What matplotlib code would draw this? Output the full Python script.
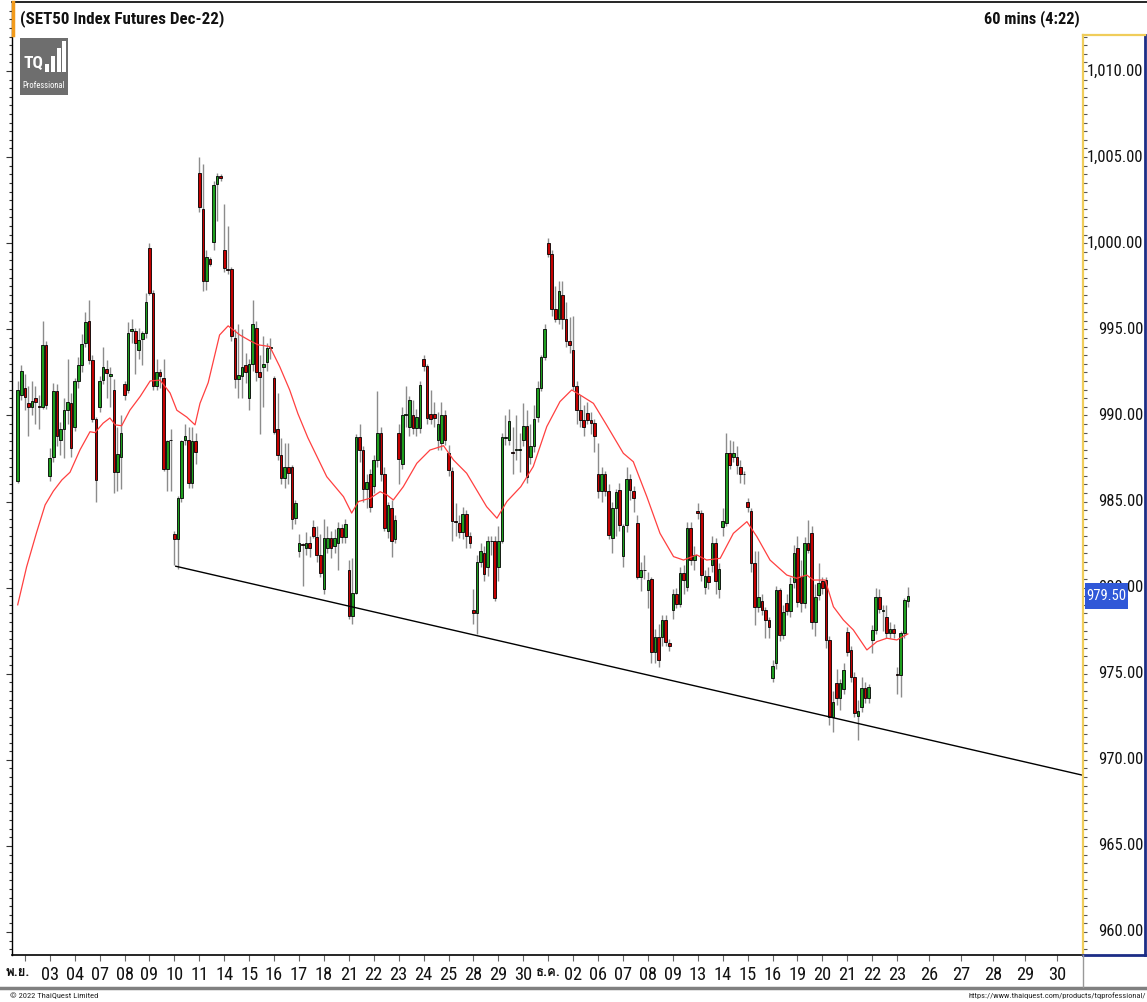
import numpy as np
import matplotlib
matplotlib.use('Agg')
import matplotlib.pyplot as plt
from matplotlib import font_manager
from matplotlib.ft2font import FT2Font
from matplotlib.lines import Line2D
from matplotlib.patches import Rectangle
from matplotlib.ticker import MultipleLocator, NullFormatter
from matplotlib.transforms import blended_transform_factory, ScaledTranslation

# ---------------- data (hourly bars, 7 per trading day) ----------------
opens = [
    986.2, 991.2,
    991.6, 990.7, 990.5, 991.0, 990.55, 990.5, 994.1,
    986.5, 987.6, 991.4, 988.6, 989.2, 990.3, 990.7,
    989.3, 992.0, 992.9, 994.2, 995.5, 993.2, 989.8,
    990.5, 992.05, 992.7, 992.3, 991.5, 986.7, 987.6,
    991.8, 991.5, 994.9, 994.9, 993.8, 994.45, 994.8,
    999.7, 997.1, 991.7, 992.5, 992.15, 986.9, 988.55,
    983.1, 982.8, 985.2, 988.6, 988.6, 986.05, 988.5,
    1004.05, 1002.0, 997.8, 999.1, 1000.05, 1003.45, 1003.9,
    999.6, 998.5, 998.5, 994.5, 992.1, 992.3, 992.9,
    991.0, 993.0, 995.1, 992.5, 992.8, 993.1, 993.9,
    992.15, 989.2, 987.7, 986.35, 987.0, 987.0, 984.05,
    982.1, 982.55, 982.3, 982.6, 983.5, 982.95, 981.9,
    979.9, 982.3, 982.9, 982.4, 982.6, 983.45, 982.95,
    981.0, 978.35, 979.7, 988.75, 988.0, 985.7, 986.6,
    985.9, 987.4, 989.0, 986.6, 983.3, 984.65, 982.8,
    989.0, 987.2, 990.0, 989.35, 990.0, 989.25, 989.25,
    993.3, 992.85, 990.1, 990.1, 988.6, 988.4, 990.0,
    987.8, 986.75, 983.85, 983.75, 983.25, 984.3, 983.0,
    978.7, 978.5, 981.5, 982.0, 981.2, 982.7, 982.7,
    981.2, 982.7, 988.7, 988.6, 987.85, 988.0, 988.0,
    988.6, 989.4, 987.6, 988.2, 989.9, 991.6, 993.4,
    1000.0, 999.4, 996.2, 995.6, 997.0, 995.6, 994.3,
    993.8, 991.7, 990.3, 989.75, 990.15, 989.75, 989.55,
    986.6, 985.6, 986.6, 985.6, 982.86, 984.6, 985.67,
    981.84, 983.64, 986.29, 985.63, 983.77, 980.64, 981.0,
    979.86, 980.48, 976.28, 977.15, 977.15, 978.12, 976.8,
    978.7, 979.61, 979.05, 980.87, 980.06, 983.44, 981.6,
    984.47, 984.32, 980.06, 980.7, 981.3, 982.57, 979.9,
    983.54, 983.77, 987.83, 987.6, 987.6, 986.98, 986.6,
    984.99, 984.46, 981.41, 978.89, 979.2, 978.7, 978.12,
    974.73, 975.6, 979.86, 977.25, 979.12, 978.66, 980.31,
    982.28, 980.63, 979.08, 982.6, 983.15, 978.02, 979.57,
    980.4, 980.44, 976.95, 972.5, 974.48, 973.57, 974.09,
    977.44, 976.37, 974.83, 972.54, 973.08, 974.15, 973.57,
    976.95, 977.53, 979.47, 978.66, 978.31, 977.34, 977.57,
    974.98, 974.92, 977.34, 979.2,
]
highs = [
    992.0, 992.9,
    992.4, 991.7, 992.0, 991.7, 991.2, 995.5, 994.3,
    988.1, 991.9, 991.8, 989.6, 991.0, 993.3, 991.3,
    992.2, 993.4, 994.7, 996.0, 996.7, 993.5, 989.9,
    992.3, 994.0, 993.2, 992.8, 992.1, 989.3, 990.0,
    992.0, 995.4, 995.6, 995.1, 995.1, 994.9, 997.1,
    1000.0, 997.3, 993.3, 992.7, 993.3, 988.6, 989.2,
    983.3, 985.3, 988.6, 989.5, 989.3, 989.3, 989.0,
    1005.0, 1004.6, 999.6, 999.2, 1003.6, 1004.1, 1004.0,
    1002.3, 1001.0, 998.6, 995.0, 995.3, 995.0, 993.6,
    993.3, 996.7, 995.5, 993.5, 994.6, 994.2, 994.5,
    992.3, 991.3, 988.7, 988.4, 988.4, 987.1, 985.1,
    983.1, 982.6, 983.2, 983.0, 983.9, 983.6, 983.1,
    984.0, 983.6, 983.3, 983.4, 983.8, 983.7, 984.0,
    981.6, 981.7, 988.9, 989.5, 988.2, 986.6, 986.9,
    987.7, 991.4, 989.3, 987.0, 985.0, 985.1, 984.2,
    989.5, 990.5, 991.7, 991.1, 990.9, 990.4, 992.0,
    993.5, 993.0, 991.5, 990.8, 990.2, 990.8, 990.3,
    988.3, 987.0, 984.9, 984.2, 984.7, 984.5, 983.2,
    979.9, 981.9, 982.6, 982.4, 983.0, 983.0, 983.0,
    983.6, 989.0, 990.0, 990.4, 989.3, 990.0, 989.0,
    990.7, 990.3, 989.5, 990.6, 992.0, 993.5, 995.3,
    1000.3, 999.6, 997.5, 997.8, 997.8, 996.6, 995.7,
    995.8, 992.0, 991.2, 990.6, 990.8, 990.2, 989.8,
    988.4, 987.0, 986.8, 986.0, 985.0, 985.7, 986.1,
    983.7, 987.0, 986.6, 985.9, 984.2, 981.5, 981.9,
    980.9, 980.6, 977.6, 977.9, 978.4, 978.4, 977.0,
    979.9, 980.0, 981.2, 981.3, 983.8, 983.8, 982.4,
    984.9, 984.5, 981.0, 981.2, 983.0, 982.9, 981.4,
    984.6, 989.0, 988.6, 988.5, 988.2, 987.4, 986.8,
    985.2, 984.6, 982.1, 982.1, 979.6, 978.9, 978.3,
    975.8, 980.1, 980.0, 979.0, 979.6, 980.6, 982.5,
    983.0, 981.6, 982.95, 983.9, 983.6, 980.2, 981.4,
    980.6, 980.6, 977.2, 974.0, 975.3, 974.7, 975.6,
    977.7, 976.6, 975.1, 973.5, 974.8, 974.5, 974.4,
    977.8, 979.96, 979.9, 979.0, 979.0, 978.0, 977.9,
    975.4, 977.5, 979.4, 980.05,
]
lows = [
    986.1, 990.9,
    990.3, 988.8, 990.0, 989.5, 989.2, 990.4, 990.4,
    986.2, 987.3, 988.2, 987.7, 987.5, 989.5, 987.6,
    989.1, 991.6, 992.5, 994.0, 993.0, 989.6, 985.0,
    990.2, 991.8, 991.0, 990.5, 985.5, 985.6, 985.7,
    990.9, 991.3, 994.2, 992.4, 993.3, 992.9, 994.5,
    997.0, 991.5, 991.5, 991.6, 986.8, 985.6, 985.6,
    981.3, 981.1, 985.0, 988.3, 985.8, 985.8, 987.2,
    1001.8, 997.2, 997.3, 998.7, 999.6, 1001.3, 1003.6,
    998.3, 998.2, 994.3, 991.6, 991.0, 991.0, 991.9,
    990.3, 992.6, 992.0, 988.9, 990.5, 992.6, 993.3,
    988.9, 987.4, 986.0, 985.8, 986.0, 983.4, 983.7,
    981.8, 980.1, 981.9, 981.8, 982.9, 981.5, 980.6,
    979.6, 982.0, 981.7, 982.0, 981.0, 982.6, 982.6,
    978.2, 977.9, 979.6, 987.3, 985.0, 984.6, 984.4,
    985.5, 987.0, 986.2, 983.3, 982.9, 981.8, 982.6,
    986.0, 986.9, 989.3, 988.8, 988.9, 988.8, 989.0,
    992.6, 989.5, 989.5, 989.3, 988.0, 988.0, 988.3,
    986.5, 982.7, 983.0, 982.9, 982.8, 982.3, 982.3,
    977.9, 977.3, 981.2, 980.4, 980.7, 981.9, 979.2,
    980.4, 982.6, 988.3, 988.3, 986.6, 987.4, 986.7,
    988.2, 986.1, 987.2, 987.9, 989.6, 991.4, 993.2,
    999.2, 995.8, 995.4, 995.3, 995.0, 994.0, 993.6,
    991.5, 989.5, 989.3, 988.8, 989.5, 988.9, 987.9,
    985.2, 985.0, 985.3, 982.8, 982.0, 983.0, 983.3,
    981.2, 983.2, 985.1, 984.4, 980.5, 979.8, 980.5,
    978.8, 975.6, 975.6, 975.4, 976.6, 976.6, 976.3,
    978.2, 978.8, 978.9, 979.6, 979.8, 981.3, 981.0,
    984.0, 980.4, 979.6, 979.9, 980.9, 979.6, 979.4,
    983.0, 983.6, 986.9, 987.3, 986.6, 986.05, 986.0,
    984.4, 980.9, 977.8, 978.6, 978.4, 977.05, 977.05,
    974.5, 975.3, 976.9, 977.0, 978.4, 978.3, 980.0,
    978.9, 978.6, 978.8, 982.0, 977.6, 977.2, 979.3,
    979.6, 976.5, 972.0, 971.6, 973.2, 972.9, 973.8,
    976.0, 974.5, 972.5, 971.15, 972.8, 973.3, 973.3,
    976.2, 977.3, 978.5, 977.5, 977.05, 977.1, 977.1,
    973.8, 973.66, 977.1, 978.9,
]
closes = [
    991.5, 992.6,
    991.05, 990.5, 990.85, 990.8, 990.5, 994.1, 990.6,
    987.5, 991.4, 988.8, 989.2, 990.3, 990.8, 988.1,
    992.0, 992.9, 994.15, 995.4, 993.2, 989.8, 986.25,
    992.0, 992.8, 992.45, 992.4, 986.7, 987.75, 989.0,
    991.2, 994.8, 995.0, 994.2, 994.4, 994.8, 996.6,
    997.1, 991.7, 992.5, 992.3, 986.9, 988.5, 988.6,
    982.8, 985.2, 988.5, 988.8, 986.05, 988.5, 987.9,
    1002.1, 997.8, 999.2, 998.8, 1003.4, 1003.9, 1003.8,
    998.55, 998.45, 994.6, 992.1, 992.35, 992.8, 992.5,
    993.0, 995.3, 992.5, 992.25, 993.0, 993.9, 994.0,
    989.05, 987.7, 986.35, 987.0, 986.65, 984.0, 984.9,
    982.6, 982.45, 982.6, 982.3, 983.0, 981.9, 980.85,
    982.9, 982.9, 982.3, 982.9, 983.45, 982.95, 983.7,
    978.35, 979.7, 988.75, 988.0, 985.7, 986.15, 984.7,
    987.4, 989.0, 986.6, 983.45, 984.8, 982.7, 983.9,
    987.45, 990.0, 990.1, 990.9, 989.25, 989.9, 991.75,
    992.85, 989.85, 989.8, 989.85, 989.5, 990.0, 988.6,
    986.85, 983.85, 983.8, 983.25, 984.3, 983.0, 982.6,
    978.5, 981.5, 982.1, 980.8, 982.7, 982.7, 979.4,
    982.7, 988.75, 988.75, 989.7, 987.8, 988.05, 988.0,
    989.4, 986.45, 988.2, 989.8, 991.6, 993.4, 995.0,
    999.4, 996.2, 995.6, 997.2, 995.6, 994.3, 994.1,
    991.7, 990.3, 989.75, 989.35, 989.75, 989.55, 988.8,
    985.6, 986.6, 985.6, 983.06, 984.6, 985.57, 983.64,
    983.58, 986.29, 985.67, 985.22, 980.64, 981.03, 981.0,
    980.44, 976.28, 977.15, 975.8, 978.12, 976.86, 976.6,
    979.6, 979.05, 980.87, 980.44, 983.44, 981.6, 981.9,
    984.32, 980.73, 980.7, 980.3, 982.57, 980.4, 981.1,
    983.89, 987.83, 987.12, 987.83, 987.12, 986.6, 986.6,
    984.66, 981.41, 978.89, 979.47, 978.7, 978.12, 977.73,
    975.45, 979.86, 977.25, 978.6, 978.66, 980.21, 981.99,
    979.18, 979.08, 982.57, 982.18, 978.02, 979.47, 980.29,
    979.96, 976.95, 972.5, 973.37, 973.57, 974.44, 975.21,
    976.28, 974.83, 972.7, 972.85, 974.15, 973.57, 974.25,
    977.53, 979.47, 978.74, 978.66, 977.34, 977.57, 977.34,
    974.9, 977.34, 979.28, 979.5,
]

# red moving-average line, read at sample positions (bar index, value)
ma_idx = [0, 2.5, 5.3, 7.7, 10.0, 12.4, 14.7, 17.5, 20.3, 21.7, 24.0, 25.9, 27.4, 29.2,
          31.5, 34.4, 37.2, 40.0, 42.8, 44.7, 47.5, 49.8, 51.2, 53.5, 56.7, 59.1, 62.4,
          65.2, 67.5, 70.8, 73.6, 76.4, 78.7, 81.5, 86.8, 91.5, 93.8, 95.7, 99.0, 101.8,
          103.7, 105.5, 108.3, 112.1, 115.8, 119.6, 122.4, 126.1, 128.9, 131.7, 134.6,
          137.4, 141.3, 144.8, 148.6, 152.3, 155.6, 158.0, 161.7, 165.4, 170.1, 172.9,
          176.7, 180.4, 184.2, 187.0, 190.7, 193.5, 197.3, 201.0, 204.8, 207.6, 211.3,
          216.0, 218.8, 221.6, 223.5, 226.8, 229.1, 231.9, 234.7, 238.5, 241.3, 244.1,
          246.9, 250.0]
ma_val = [979.0, 981.2, 983.2, 984.8, 985.6, 986.25, 986.7, 988.0, 989.05, 989.0, 989.55,
          989.85, 989.45, 989.4, 990.3, 991.1, 992.0, 992.05, 991.3, 990.3, 989.9, 989.45,
          990.7, 991.9, 994.67, 995.2, 994.67, 994.34, 994.1, 994.0, 992.83, 991.47, 990.1,
          988.7, 986.44, 985.28, 984.33, 985.0, 985.19, 985.57, 985.38, 985.09, 985.86,
          987.22, 987.99, 988.24, 987.41, 986.64, 985.67, 984.7, 984.03, 985.0, 985.86,
          987.03, 989.35, 990.8, 991.48, 991.18, 990.7, 989.44, 987.8, 987.31, 985.28,
          983.15, 981.8, 981.6, 981.9, 981.6, 981.7, 983.15, 983.83, 982.96, 981.6, 980.73,
          980.54, 980.73, 980.44, 980.44, 978.89, 978.12, 977.54, 976.38, 976.86, 977.06,
          976.96, 977.31]

# drawn trend line (anchor bar index, value)
trend_idx = [44.2, 299.2]
trend_val = [981.25, 969.1]

# x-axis day labels
day_labels = ['พ.ย.', '03', '04', '07', '08', '09', '10', '11', '14', '15', '16', '17', '18',
              '21', '22', '23', '24', '25', '28', '29', '30', 'ธ.ค.', '02', '06', '07', '08',
              '09', '13', '14', '15', '16', '19', '20', '21', '22', '23',
              '26', '27', '28', '29', '30']
month_labels = {'พ.ย.', 'ธ.ค.'}
price_ticks = [960, 965, 970, 975, 980, 985, 990, 995, 1000, 1005, 1010]
last_price = 979.50
title_left = '(SET50 Index Futures Dec-22)'
title_right = '60 mins (4:22)'

# ---------------- fonts ----------------
ents = font_manager.fontManager.ttflist
names = {f.name for f in ents}
COND_STRETCH = ('condensed', 'semi-condensed', 'extra-condensed', 'ultra-condensed')


def pick_condensed():
    conds = [f for f in ents if (str(f.stretch) in COND_STRETCH or 'Narrow' in f.name
                                 or 'Condensed' in f.name)]
    pref = ['Liberation Sans Narrow', 'Arial Narrow', 'Roboto Condensed',
            'Open Sans Condensed', 'Noto Sans Condensed', 'DejaVu Sans']
    for p in pref:
        for f in conds:
            if f.name == p:
                return f.name, str(f.stretch)
    if conds:
        return conds[0].name, str(conds[0].stretch)
    base = 'Liberation Sans' if 'Liberation Sans' in names else 'DejaVu Sans'
    return base, 'normal'


def find_font(ch):
    for f in ents:
        try:
            if ord(ch) in FT2Font(f.fname).get_charmap():
                return f.name
        except Exception:
            pass
    return 'DejaVu Sans'


NAME, STRETCH = pick_condensed()
THAI = find_font('พ')
FAM = [NAME, THAI, 'DejaVu Sans']
FP = dict(fontfamily=FAM, fontstretch=STRETCH)

# ---------------- figure ----------------
W, H = 1147, 1002
fig = plt.figure(figsize=(W / 100, H / 100), dpi=100)
fig.patch.set_facecolor('white')
renderer = fig.canvas.get_renderer()


def fit_size(s, target_w, **kw):
    t = fig.text(0, 0, s, fontsize=10, **FP, **kw)
    w = t.get_window_extent(renderer).width
    t.remove()
    return 10 * target_w / max(w, 1)


def px_axes(x0, y0, x1, y1):
    return fig.add_axes([x0 / W, 1 - y1 / H, (x1 - x0) / W, (y1 - y0) / H])


def fig_line(xs, ys, **kw):
    fig.add_artist(Line2D([x / W for x in xs], [1 - y / H for y in ys],
                          transform=fig.transFigure, **kw))


# scale: 1010 at y=71 px, 17.22 px per point
PX = 17.22
def val_at(ypx):
    return 1010 - (ypx - 71) / PX


ax = px_axes(12, 3, 1083, 955)
ax.set_xlim(-1.6, 299.2)
ax.set_ylim(val_at(955), val_at(3))

o = np.array(opens); h = np.array(highs); l = np.array(lows); c = np.array(closes)
idx = np.arange(len(o))
up = c >= o
ax.vlines(idx, l, h, color='#8c8c8c', lw=1.0, zorder=2)
body_bot = np.minimum(o, c)
body_h = np.maximum(np.abs(c - o), 0.02)
cols = np.where(up, '#1e9e1e', '#c40000')
ax.bar(idx, body_h, bottom=body_bot, width=0.74, color=cols, edgecolor='black',
       linewidth=0.6, zorder=3)
ax.plot(ma_idx, ma_val, color='#ff4040', lw=0.9, zorder=4)
ax.plot(trend_idx, trend_val, color='black', lw=1.0, zorder=4, solid_capstyle='butt')

for s in ['top', 'right']:
    ax.spines[s].set_visible(False)
ax.spines['left'].set_color('black')
ax.spines['left'].set_linewidth(1.0)
ax.spines['bottom'].set_color('black')
ax.spines['bottom'].set_linewidth(1.2)

ax.yaxis.set_major_locator(MultipleLocator(5))
ax.yaxis.set_minor_locator(MultipleLocator(0.5))
ax.tick_params(axis='y', which='major', direction='out', length=4, width=0.8,
               color='#333333', labelleft=False)
ax.tick_params(axis='y', which='minor', direction='out', length=2.5, width=0.8,
               color='#333333')

xs_size = fit_size('03', 18)
day_pos = [2 + 7 * k for k in range(36)] + [247 + 9 * k for k in range(1, 6)]
ax.set_xticks(day_pos)
ax.set_xticklabels(day_labels, fontsize=xs_size, color='#111111', **FP)
ax.tick_params(axis='x', direction='out', length=4, width=0.8, color='#666666', pad=4)
for t in ax.get_xticklabels():
    if t.get_text() in month_labels:
        t.set_fontsize(xs_size * 0.72)
        t.set_fontweight('bold')
first = ax.get_xticklabels()[0]
first.set_transform(first.get_transform() + ScaledTranslation(-0.07, 0, fig.dpi_scale_trans))

# ---------------- right price scale ----------------
rax = px_axes(1083, 35, 1145, 955)
rax.set_ylim(val_at(955), val_at(35))
rax.set_xlim(0, 1)
rax.set_xticks([])
rax.yaxis.set_major_locator(MultipleLocator(0.5))
rax.yaxis.set_major_formatter(NullFormatter())
rax.tick_params(axis='y', which='both', direction='in', length=3, width=0.8,
                color='#555555', left=True, right=False)
rax.spines['left'].set_color('#f0cd5a'); rax.spines['left'].set_linewidth(1.6)
rax.spines['top'].set_color('#f0cd5a'); rax.spines['top'].set_linewidth(1.6)
rax.spines['right'].set_color('#1c2d86'); rax.spines['right'].set_linewidth(2.0)
rax.spines['bottom'].set_color('#1c2d86'); rax.spines['bottom'].set_linewidth(2.0)
btr = blended_transform_factory(rax.transAxes, rax.transData)
ys_size = fit_size('1,010.00', 56)
for v in price_ticks:
    rax.text(0.97, v, f'{v:,.2f}', transform=btr, ha='right', va='center',
             fontsize=ys_size, color='#111111', **FP)
rax.add_patch(Rectangle((0.03, last_price - 0.76), 0.70, 1.52, transform=btr,
                        facecolor='#3058d8', edgecolor='none', zorder=5, clip_on=False))
rax.text(0.38, last_price, f'{last_price:.2f}', transform=btr, ha='center', va='center',
         fontsize=fit_size('979.50', 40), color='white', zorder=6, **FP)

# ---------------- frame / header / footer ----------------
fig_line([12, 1147], [2, 2], color='black', lw=1.2)
fig_line([13, 13], [2, 35], color='#f29a1a', lw=2.5)
fig_line([0, 1147], [988, 988], color='#808080', lw=2.5)
fig_line([1083, 1083], [955, 987], color='#999999', lw=1.0)

fig.text(20 / W, 1 - 19 / H, title_left, ha='left', va='center', color='#111111',
         fontsize=fit_size(title_left, 205, fontweight='bold'), fontweight='bold', **FP)
fig.text(1080 / W, 1 - 19 / H, title_right, ha='right', va='center', color='#111111',
         fontsize=fit_size(title_right, 96, fontweight='bold'), fontweight='bold', **FP)

# TQ Professional logo
fig.add_artist(Rectangle((20 / W, 1 - 95 / H), 48 / W, 57 / H, transform=fig.transFigure,
                         facecolor='#6e6e6e', edgecolor='none'))
fig.text(23 / W, 1 - 64 / H, 'TQ', ha='left', va='center', color='white',
         fontsize=fit_size('TQ', 20, fontweight='bold'), fontweight='bold', **FP)
for bx, by, bh in [(45, 72, 8), (51, 72, 16), (57, 72, 24), (62, 72, 31)]:
    fig.add_artist(Rectangle((bx / W, 1 - by / H), 4 / W, bh / H, transform=fig.transFigure,
                             facecolor='white', edgecolor='none'))
fig.text(44 / W, 1 - 85 / H, 'Professional', ha='center', va='center', color='white',
         fontsize=fit_size('Professional', 43), **FP)

fig.text(10 / W, 1 - 996 / H, '© 2022 ThaiQuest Limited', ha='left', va='center',
         fontsize=fit_size('© 2022 ThaiQuest Limited', 87), color='#222222', **FP)
url = 'https://www.thaiquest.com/products/tqprofessional/'
fig.text(1146 / W, 1 - 996 / H, url, ha='right', va='center',
         fontsize=fit_size(url, 178), color='#222222', **FP)

fig.savefig('out.png', dpi=100, facecolor='white')
